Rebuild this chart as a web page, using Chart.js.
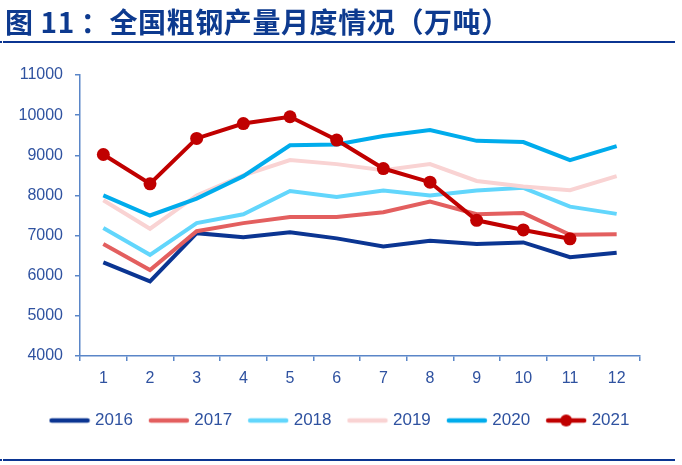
<!DOCTYPE html>
<html>
<head>
<meta charset="utf-8">
<script src="https://cdn.jsdelivr.net/npm/chart.js@4.4.1/dist/chart.umd.min.js"></script>
<style>
    html, body { margin: 0; padding: 0; background: #fff; }
    #wrap { position: relative; width: 682px; height: 465px; overflow: hidden; }
    #title {
        position: absolute; left: 5px; top: 6px;
        font: bold 28px "Noto Sans CJK SC", sans-serif;
        letter-spacing: 0.6px;
        line-height: 30px; color: #0d3a8f; white-space: nowrap;
    }
    #title .colon { margin-left: 6px; }
    .rule { position: absolute; left: 3px; width: 672px; height: 2px; background: #0b3592; }
    .dot { position: absolute; left: 0; width: 2px; height: 2px; background: #0b3592; }
    #chart { position: absolute; left: 0; top: 0; }
</style>
</head>
<body>
<div id="wrap">
    <canvas id="chart" width="682" height="465"></canvas>
    <div id="title">图 11<span class="colon">：</span>全国粗钢产量月度情况（万吨）</div>
    <div class="dot" style="top:41px"></div>
    <div class="rule" style="top:41px"></div>
    <div class="dot" style="top:459px"></div>
    <div class="rule" style="top:459px"></div>
</div>
<script>
// months on the x axis
const months = ['1', '2', '3', '4', '5', '6', '7', '8', '9', '10', '11', '12'];

// monthly crude steel output, 10k tonnes
const y2016 = [6330, 5860, 7060, 6960, 7080, 6930, 6730, 6870, 6790, 6830, 6460, 6570];
const y2017 = [6790, 6140, 7110, 7310, 7460, 7460, 7580, 7850, 7530, 7560, 7020, 7030];
const y2018 = [7190, 6520, 7310, 7530, 8110, 7960, 8120, 8000, 8120, 8190, 7720, 7540];
const y2019 = [7880, 7170, 8000, 8500, 8880, 8780, 8630, 8780, 8360, 8220, 8130, 8480];
const y2020 = [8000, 7500, 7920, 8480, 9250, 9270, 9480, 9630, 9360, 9330, 8880, 9230];
const y2021 = [9020, 8290, 9420, 9790, 9960, 9380, 8670, 8330, 7380, 7140, 6920, null];

const seriesNames = ['2016', '2017', '2018', '2019', '2020', '2021'];
const seriesData = [y2016, y2017, y2018, y2019, y2020, y2021];
const seriesColors = ['#0b3592', '#e35f5f', '#62d6fc', '#f9d3d3', '#00acec', '#c00000'];

const axisColor = '#5a86c8';
const textColor = '#2f52a0';
const labelFont = { family: 'Liberation Sans, Arial, sans-serif', size: 16 };

// little legend swatches: a thick line, with a dot for 2021
function makeSwatch(color, withDot) {
    const c = document.createElement('canvas');
    c.width = 42;
    c.height = 14;
    const ctx = c.getContext('2d');
    ctx.strokeStyle = color;
    ctx.lineWidth = 4.5;
    ctx.lineCap = 'round';
    ctx.beginPath();
    ctx.moveTo(3, 7);
    ctx.lineTo(39, 7);
    ctx.stroke();
    if (withDot) {
        ctx.fillStyle = color;
        ctx.beginPath();
        ctx.arc(21, 7, 6, 0, Math.PI * 2);
        ctx.fill();
    }
    return c;
}

const datasets = seriesNames.map((name, i) => {
    const isLast = name === '2021';
    return {
        label: name,
        data: seriesData[i],
        borderColor: seriesColors[i],
        backgroundColor: seriesColors[i],
        borderWidth: 4,
        tension: 0,
        pointRadius: isLast ? 6.5 : 0,
        pointBorderWidth: 0,
        pointBackgroundColor: seriesColors[i],
        order: seriesNames.length - 1 - i,
        spanGaps: false
    };
});

new Chart(document.getElementById('chart').getContext('2d'), {
    type: 'line',
    data: { labels: months, datasets: datasets },
    options: {
        responsive: false,
        animation: false,
        layout: { padding: { left: 0, right: 0, top: 75, bottom: 26 } },
        scales: {
            x: {
                offset: true,
                grid: { offset: true, drawOnChartArea: false, tickLength: 5, color: axisColor, lineWidth: 1.5 },
                border: { color: axisColor, width: 1.5 },
                ticks: { color: textColor, font: labelFont, padding: 8, maxRotation: 0 },
                afterFit: function(scale) { scale.height = 37; }
            },
            y: {
                min: 4000,
                max: 11000,
                grid: { drawOnChartArea: false, tickLength: 5, color: axisColor, lineWidth: 1.5 },
                border: { color: axisColor, width: 1.5 },
                ticks: {
                    stepSize: 1000, color: textColor, font: labelFont, padding: 12,
                    callback: function(value) { return String(value); }
                },
                afterFit: function(scale) { scale.width = 80; }
            },
            // empty right-hand spacer so the legend stays centred on the page
            spacer: {
                type: 'linear',
                position: 'right',
                grid: { display: false },
                border: { display: false },
                ticks: { display: false },
                afterFit: function(scale) { scale.width = 42; }
            }
        },
        plugins: {
            tooltip: { enabled: false },
            legend: {
                position: 'bottom',
                labels: {
                    usePointStyle: true,
                    pointStyleWidth: 34,
                    padding: 19,
                    color: textColor,
                    font: { family: 'Liberation Sans, Arial, sans-serif', size: 17 },
                    generateLabels: function(chart) {
                        return chart.data.datasets.map((ds, i) => ({
                            text: ds.label,
                            fillStyle: ds.borderColor,
                            strokeStyle: ds.borderColor,
                            lineWidth: 0,
                            fontColor: textColor,
                            pointStyle: makeSwatch(ds.borderColor, ds.label === '2021'),
                            datasetIndex: i,
                            hidden: false
                        }));
                    }
                }
            }
        }
    }
});
</script>
</body>
</html>
